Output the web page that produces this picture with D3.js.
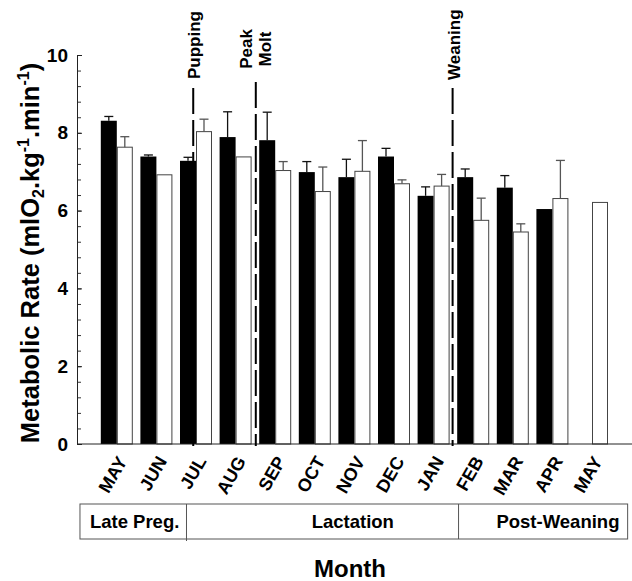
<!DOCTYPE html>
<html>
<head>
<meta charset="utf-8">
<script src="https://cdn.jsdelivr.net/npm/d3@7"></script>
<style>
  body { margin: 0; background: #fff; }
  svg { display: block; font-family: "Liberation Sans", Arial, sans-serif; font-weight: bold; }
</style>
</head>
<body>
<svg id="chart" width="632" height="581"></svg>
<script>
// data
const months = ["MAY", "JUN", "JUL", "AUG", "SEP", "OCT", "NOV", "DEC", "JAN", "FEB", "MAR", "APR", "MAY"];
const blackMean = [8.31, 7.39, 7.28, 7.89, 7.81, 6.99, 6.86, 7.39, 6.38, 6.86, 6.59, 6.04, null];
const blackErr  = [0.11, 0.04, 0.09, 0.65, 0.72, 0.27, 0.46, 0.21, 0.23, 0.21, 0.31, 0, null];
const whiteMean = [7.63, 6.92, 8.03, 7.38, 7.03, 6.49, 7.01, 6.69, 6.63, 5.75, 5.45, 6.31, 6.21];
const whiteErr  = [0.27, 0, 0.32, 0, 0.23, 0.63, 0.79, 0.10, 0.30, 0.57, 0.21, 0.98, 0];
const yTicks = [0, 2, 4, 6, 8, 10];

// events (month index positions) and phases
const eventNames = [["Pupping"], ["Peak", "Molt"], ["Weaning"]];
const eventPos = [1.93, 3.51, 8.48];
const phaseNames = ["Late Preg.", "Lactation", "Post-Weaning"];
const phaseEdges = [-0.93, 1.76, 8.63, 12.9];
const phaseLabelPos = [0.45, 5.96, 11.14];

const svg = d3.select("#chart");

const x = d3.scaleBand()
    .domain(d3.range(months.length))
    .range([97, 611.8]);
// fractional month index -> pixel
const xi = d3.scaleLinear().domain([-0.5, months.length - 0.5]).range(x.range());
const y = d3.scaleLinear().domain([0, 10]).range([444, 55]);

const barW = 16;
const x0 = 77;

// bars
const g = svg.append("g");
const rows = months.map((m, i) => ({i, bm: blackMean[i], be: blackErr[i], wm: whiteMean[i], we: whiteErr[i]}));

g.selectAll("rect.black")
    .data(rows.filter(d => d.bm != null))
    .join("rect")
    .attr("class", "black")
    .attr("x", d => xi(d.i) - barW)
    .attr("y", d => y(d.bm))
    .attr("width", barW)
    .attr("height", d => y(0) - y(d.bm))
    .attr("fill", "#000");

g.selectAll("rect.white")
    .data(rows.filter(d => d.wm != null))
    .join("rect")
    .attr("class", "white")
    .attr("x", d => xi(d.i) + 0.5)
    .attr("y", d => y(d.wm))
    .attr("width", barW - 1)
    .attr("height", d => y(0) - y(d.wm))
    .attr("fill", "#fff")
    .attr("stroke", "#444")
    .attr("stroke-width", 1);

// error bars (upper only)
function errBars(data, cx, mean, err, color) {
    const e = g.selectAll(null).data(data.filter(d => d[mean] != null && d[err] > 0)).join("g")
        .attr("stroke", color).attr("stroke-width", 1.3);
    e.append("line")
        .attr("x1", cx).attr("x2", cx)
        .attr("y1", d => y(d[mean])).attr("y2", d => y(d[mean] + d[err]));
    e.append("line")
        .attr("x1", d => cx(d) - 4.5).attr("x2", d => cx(d) + 4.5)
        .attr("y1", d => y(d[mean] + d[err])).attr("y2", d => y(d[mean] + d[err]));
}
errBars(rows, d => xi(d.i) - barW / 2, "bm", "be", "#111");
errBars(rows, d => xi(d.i) + barW / 2, "wm", "we", "#555");

// y axis, ticks pointing inward
svg.append("g")
    .attr("transform", `translate(${x0},0)`)
    .call(d3.axisLeft(y).tickValues(d3.range(0, 10.01, 0.4)).tickSizeInner(-4).tickSizeOuter(0).tickFormat(""))
    .call(a => a.select(".domain").remove())
    .selectAll("line").attr("stroke", "#333");

const yAxis = svg.append("g")
    .attr("transform", `translate(${x0},0)`)
    .call(d3.axisLeft(y).tickValues(yTicks).tickSizeInner(-5).tickSizeOuter(0).tickPadding(9));
yAxis.select(".domain").attr("stroke", "#222");
yAxis.selectAll("line").attr("stroke", "#222");
yAxis.selectAll("text")
    .attr("font-size", 19)
    .attr("font-weight", "bold")
    .attr("font-family", "Liberation Sans, Arial, sans-serif")
    .attr("fill", "#000");

// x baseline
svg.append("line")
    .attr("x1", x0).attr("x2", 632)
    .attr("y1", y(0)).attr("y2", y(0))
    .attr("stroke", "#222");

// month labels
svg.append("g").selectAll("text")
    .data(months)
    .join("text")
    .attr("transform", (d, i) => `translate(${xi(i) + 11},461) rotate(-60)`)
    .attr("text-anchor", "end")
    .attr("font-size", 18)
    .text(d => d);

// event dashed lines and labels
const eventTop = [88, 82, 88];
eventPos.forEach((p, k) => {
    svg.append("line")
        .attr("x1", xi(p)).attr("x2", xi(p))
        .attr("y1", eventTop[k]).attr("y2", y(0) + 2)
        .attr("stroke", "#000")
        .attr("stroke-width", 2)
        .attr("stroke-dasharray", "26,6");
});
svg.append("text")
    .attr("transform", `translate(${xi(eventPos[0]) + 7},79) rotate(-90)`)
    .attr("font-size", 17)
    .text(eventNames[0][0]);
svg.append("text")
    .attr("transform", `translate(${xi(eventPos[2]) + 7},80) rotate(-90)`)
    .attr("font-size", 17)
    .text(eventNames[2][0]);
svg.append("text")
    .attr("transform", `translate(${xi(eventPos[1]) - 4},49) rotate(-90)`)
    .attr("text-anchor", "middle")
    .attr("font-size", 17)
    .selectAll("tspan")
    .data(eventNames[1])
    .join("tspan")
    .attr("x", 0)
    .attr("dy", (d, i) => i === 0 ? 0 : "1.15em")
    .text(d => d);

// phase box
const boxTop = 504, boxBot = 539;
svg.append("rect")
    .attr("x", xi(phaseEdges[0])).attr("y", boxTop)
    .attr("width", xi(phaseEdges[3]) - xi(phaseEdges[0]))
    .attr("height", boxBot - boxTop)
    .attr("fill", "none").attr("stroke", "#555");
svg.selectAll("line.div")
    .data(phaseEdges.slice(1, 3))
    .join("line")
    .attr("class", "div")
    .attr("x1", d => xi(d)).attr("x2", d => xi(d))
    .attr("y1", boxTop).attr("y2", (d, i) => i === 0 ? boxBot + 2 : boxBot)
    .attr("stroke", "#555");
svg.selectAll("text.phase")
    .data(phaseNames)
    .join("text")
    .attr("class", "phase")
    .attr("x", (d, i) => xi(phaseLabelPos[i]))
    .attr("y", 528)
    .attr("text-anchor", "middle")
    .attr("font-size", 18.5)
    .text(d => d);

// axis titles
svg.append("text")
    .attr("x", 350).attr("y", 577)
    .attr("text-anchor", "middle")
    .attr("font-size", 24)
    .text("Month");

const yl = svg.append("text")
    .attr("transform", "translate(39,253) rotate(-90)")
    .attr("text-anchor", "middle")
    .attr("font-size", 25.5);
yl.append("tspan").text("Metabolic Rate (mlO");
yl.append("tspan").attr("font-size", 16).attr("dy", 5).text("2");
yl.append("tspan").attr("dy", -5).text(".kg");
yl.append("tspan").attr("font-size", 16).attr("dy", -10).text("-1");
yl.append("tspan").attr("dy", 10).text(".min");
yl.append("tspan").attr("font-size", 16).attr("dy", -10).text("-1");
yl.append("tspan").attr("dy", 10).text(")");
</script>
</body>
</html>
